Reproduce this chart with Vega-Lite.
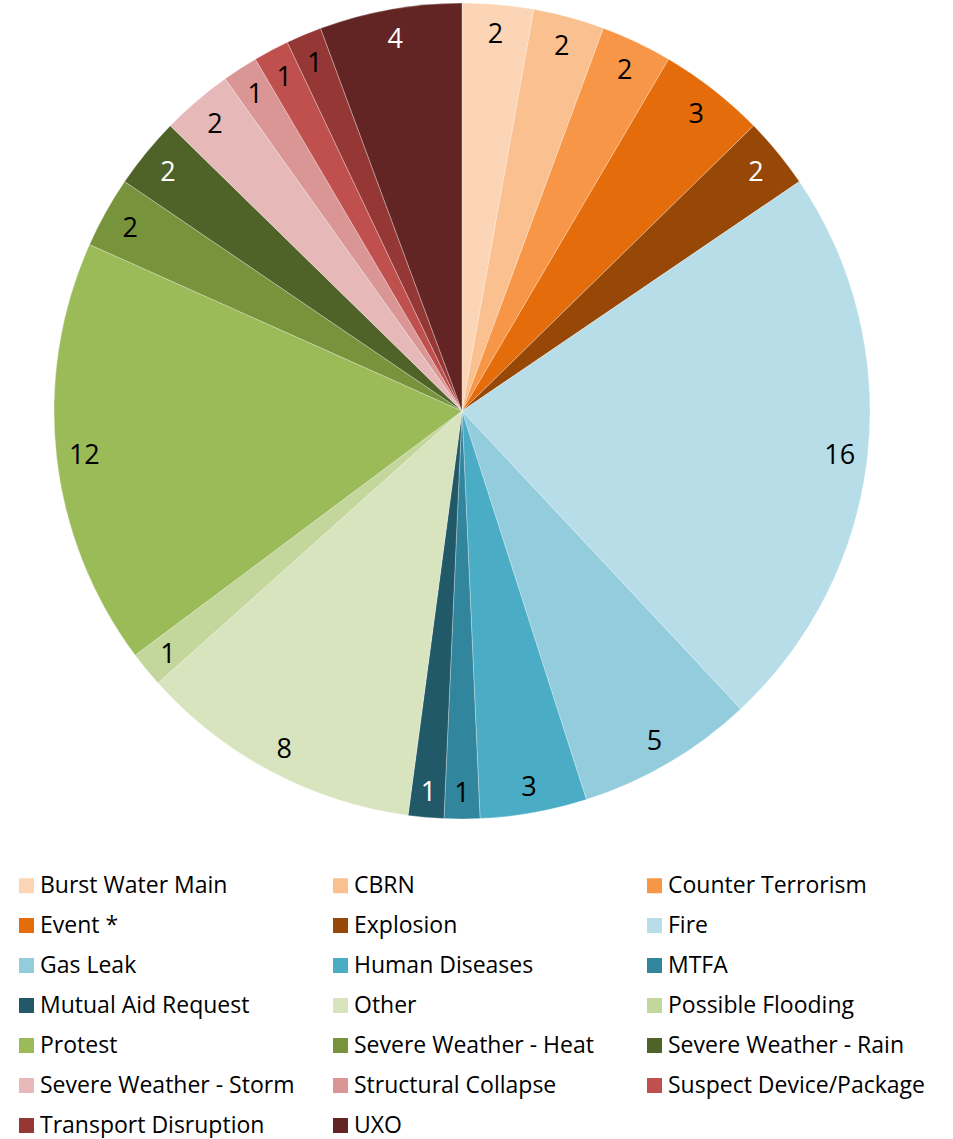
{
  "$schema": "https://vega.github.io/schema/vega-lite/v6.json",
  "width": 924,
  "height": 822,
  "padding": 0,
  "background": "white",
  "config": {"view": {"stroke": null}, "font": "Open Sans"},
  "data": {
    "values": [
      {"category": "Burst Water Main", "value": 2},
      {"category": "CBRN", "value": 2},
      {"category": "Counter Terrorism", "value": 2},
      {"category": "Event *", "value": 3},
      {"category": "Explosion", "value": 2},
      {"category": "Fire", "value": 16},
      {"category": "Gas Leak", "value": 5},
      {"category": "Human Diseases", "value": 3},
      {"category": "MTFA", "value": 1},
      {"category": "Mutual Aid Request", "value": 1},
      {"category": "Other", "value": 8},
      {"category": "Possible Flooding", "value": 1},
      {"category": "Protest", "value": 12},
      {"category": "Severe Weather - Heat", "value": 2},
      {"category": "Severe Weather - Rain", "value": 2},
      {"category": "Severe Weather - Storm", "value": 2},
      {"category": "Structural Collapse", "value": 1},
      {"category": "Suspect Device/Package", "value": 1},
      {"category": "Transport Disruption", "value": 1},
      {"category": "UXO", "value": 4}
    ]
  },
  "encoding": {
    "theta": {"field": "value", "type": "quantitative", "stack": true},
    "order": {"field": "category", "type": "ordinal", "sort": "ascending"}
  },
  "layer": [
    {
      "mark": {"type": "arc", "outerRadius": 408, "stroke": "white", "strokeWidth": 0.3},
      "encoding": {
        "color": {
          "field": "category",
          "type": "nominal",
          "scale": {
            "domain": ["Burst Water Main", "CBRN", "Counter Terrorism", "Event *", "Explosion", "Fire", "Gas Leak", "Human Diseases", "MTFA", "Mutual Aid Request", "Other", "Possible Flooding", "Protest", "Severe Weather - Heat", "Severe Weather - Rain", "Severe Weather - Storm", "Structural Collapse", "Suspect Device/Package", "Transport Disruption", "UXO"],
            "range": ["#FBD5B5", "#FAC090", "#F79646", "#E46C0A", "#974806", "#B7DEE8", "#93CDDD", "#4BACC6", "#31859C", "#215968", "#D7E4BD", "#C3D69B", "#9BBB59", "#77933C", "#4F6228", "#E6B9B8", "#D99694", "#C0504D", "#953735", "#632523"]
          },
          "legend": {
            "title": null,
            "orient": "none",
            "legendX": 15,
            "legendY": 874,
            "direction": "horizontal",
            "columns": 3,
            "gridAlign": "all",
            "columnPadding": 31,
            "rowPadding": 16,
            "symbolType": "square",
            "symbolSize": 225,
            "symbolStrokeWidth": 0,
            "labelFont": "Open Sans",
            "labelFontSize": 23,
            "labelColor": "#000000",
            "labelOffset": 2,
            "labelLimit": 400
          }
        }
      }
    },
    {
      "mark": {"type": "text", "radius": 380, "fontSize": 27, "font": "Open Sans", "dy": 3},
      "encoding": {
        "detail": {"field": "category", "type": "nominal"},
        "text": {"field": "value", "type": "quantitative"},
        "color": {
          "condition": {"test": "indexof(['Explosion','Mutual Aid Request','Severe Weather - Rain','UXO'], datum.category) >= 0", "value": "white"},
          "value": "black"
        }
      }
    }
  ]
}
